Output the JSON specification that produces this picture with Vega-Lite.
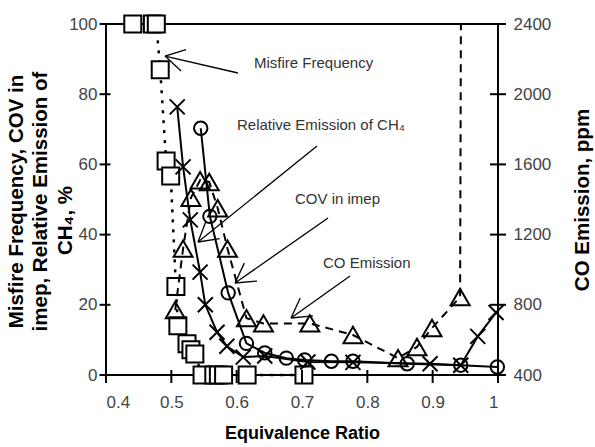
{
  "$schema": "https://vega.github.io/schema/vega-lite/v6.json",
  "width": 392,
  "height": 351,
  "autosize": {"type": "none"},
  "padding": {"left": 106, "top": 24, "right": 97, "bottom": 72},
  "config": {
    "view": {"stroke": "black", "strokeWidth": 2},
    "font": "Liberation Sans",
    "axis": {
      "domain": false,
      "ticks": false,
      "grid": false,
      "labelFont": "Liberation Sans",
      "labelFontSize": 17,
      "labelColor": "#444444",
      "titleFont": "Liberation Sans",
      "titleFontWeight": "bold",
      "titleColor": "black"
    }
  },
  "datasets": {
    "pct": [
      {"s": "misfire", "seq": 1, "ratio": 0.441, "pct": 100},
      {"s": "misfire", "seq": 2, "ratio": 0.471, "pct": 100},
      {"s": "misfire", "seq": 3, "ratio": 0.477, "pct": 100},
      {"s": "misfire", "seq": 4, "ratio": 0.483, "pct": 87},
      {"s": "misfire", "seq": 5, "ratio": 0.492, "pct": 61},
      {"s": "misfire", "seq": 6, "ratio": 0.499, "pct": 56.7},
      {"s": "misfire", "seq": 7, "ratio": 0.507, "pct": 25.2},
      {"s": "misfire", "seq": 8, "ratio": 0.510, "pct": 14},
      {"s": "misfire", "seq": 9, "ratio": 0.524, "pct": 8.9},
      {"s": "misfire", "seq": 10, "ratio": 0.530, "pct": 7.2},
      {"s": "misfire", "seq": 11, "ratio": 0.536, "pct": 6},
      {"s": "misfire", "seq": 12, "ratio": 0.547, "pct": 0},
      {"s": "misfire", "seq": 13, "ratio": 0.565, "pct": 0},
      {"s": "misfire", "seq": 14, "ratio": 0.572, "pct": 0},
      {"s": "misfire", "seq": 15, "ratio": 0.580, "pct": 0},
      {"s": "misfire", "seq": 16, "ratio": 0.616, "pct": 0},
      {"s": "misfire", "seq": 17, "ratio": 0.703, "pct": 0},
      {"s": "ch4", "seq": 1, "ratio": 0.509, "pct": 76.4},
      {"s": "ch4", "seq": 2, "ratio": 0.518, "pct": 59.3},
      {"s": "ch4", "seq": 3, "ratio": 0.529, "pct": 44.2},
      {"s": "ch4", "seq": 4, "ratio": 0.544, "pct": 29.3},
      {"s": "ch4", "seq": 5, "ratio": 0.552, "pct": 20},
      {"s": "ch4", "seq": 6, "ratio": 0.570, "pct": 12.2},
      {"s": "ch4", "seq": 7, "ratio": 0.585, "pct": 8.2},
      {"s": "ch4", "seq": 8, "ratio": 0.610, "pct": 5.1},
      {"s": "ch4", "seq": 9, "ratio": 0.643, "pct": 5.4},
      {"s": "ch4", "seq": 10, "ratio": 0.709, "pct": 3.7},
      {"s": "ch4", "seq": 11, "ratio": 0.778, "pct": 3.6},
      {"s": "ch4", "seq": 12, "ratio": 0.896, "pct": 3.2},
      {"s": "ch4", "seq": 13, "ratio": 0.943, "pct": 2.8},
      {"s": "ch4", "seq": 14, "ratio": 0.969, "pct": 11},
      {"s": "ch4", "seq": 15, "ratio": 0.997, "pct": 17.8},
      {"s": "cov", "seq": 1, "ratio": 0.545, "pct": 70.3},
      {"s": "cov", "seq": 2, "ratio": 0.559, "pct": 45.2},
      {"s": "cov", "seq": 3, "ratio": 0.587, "pct": 23.4},
      {"s": "cov", "seq": 4, "ratio": 0.615, "pct": 9},
      {"s": "cov", "seq": 5, "ratio": 0.643, "pct": 6.3},
      {"s": "cov", "seq": 6, "ratio": 0.676, "pct": 4.8},
      {"s": "cov", "seq": 7, "ratio": 0.704, "pct": 4.3},
      {"s": "cov", "seq": 8, "ratio": 0.745, "pct": 3.9},
      {"s": "cov", "seq": 9, "ratio": 0.778, "pct": 3.9},
      {"s": "cov", "seq": 10, "ratio": 0.861, "pct": 3.2},
      {"s": "cov", "seq": 11, "ratio": 0.943, "pct": 2.8},
      {"s": "cov", "seq": 12, "ratio": 0.999, "pct": 2.3}
    ],
    "co": [
      {"ratio": 0.506, "ppm": 770},
      {"ratio": 0.518, "ppm": 1120},
      {"ratio": 0.530, "ppm": 1410},
      {"ratio": 0.544, "ppm": 1510},
      {"ratio": 0.558, "ppm": 1500},
      {"ratio": 0.571, "ppm": 1350},
      {"ratio": 0.586, "ppm": 1120},
      {"ratio": 0.615, "ppm": 724},
      {"ratio": 0.641, "ppm": 694},
      {"ratio": 0.712, "ppm": 694},
      {"ratio": 0.778, "ppm": 628},
      {"ratio": 0.847, "ppm": 496},
      {"ratio": 0.876, "ppm": 560},
      {"ratio": 0.899, "ppm": 668},
      {"ratio": 0.942, "ppm": 844},
      {"ratio": 0.944, "ppm": 3400}
    ],
    "notes": [
      {"label": "Misfire Frequency", "ratio": 0.6265, "pct": 88.9},
      {"label": "Relative Emission of CH₄", "ratio": 0.6005, "pct": 71.2},
      {"label": "COV in imep", "ratio": 0.6893, "pct": 50.1},
      {"label": "CO Emission", "ratio": 0.7322, "pct": 31.9}
    ],
    "arrows": [
      {"ratio": 0.4903, "pct": 90.88, "ratio2": 0.6020, "pct2": 86.04},
      {"ratio": 0.4903, "pct": 90.88, "ratio2": 0.5225, "pct2": 92.71},
      {"ratio": 0.4903, "pct": 90.88, "ratio2": 0.5150, "pct2": 86.61},
      {"ratio": 0.5408, "pct": 37.89, "ratio2": 0.7230, "pct2": 65.24},
      {"ratio": 0.5408, "pct": 37.89, "ratio2": 0.5740, "pct2": 38.86},
      {"ratio": 0.5408, "pct": 37.89, "ratio2": 0.5529, "pct2": 43.73},
      {"ratio": 0.5975, "pct": 26.21, "ratio2": 0.7398, "pct2": 44.73},
      {"ratio": 0.5975, "pct": 26.21, "ratio2": 0.6310, "pct2": 26.75},
      {"ratio": 0.5975, "pct": 26.21, "ratio2": 0.6117, "pct2": 31.88},
      {"ratio": 0.6832, "pct": 16.24, "ratio2": 0.7735, "pct2": 28.21},
      {"ratio": 0.6832, "pct": 16.24, "ratio2": 0.7167, "pct2": 16.84},
      {"ratio": 0.6832, "pct": 16.24, "ratio2": 0.6973, "pct2": 21.94}
    ],
    "xticks": [
      {"ratio": 0.4, "pct": 0}, {"ratio": 0.5, "pct": 0}, {"ratio": 0.6, "pct": 0},
      {"ratio": 0.7, "pct": 0}, {"ratio": 0.8, "pct": 0}, {"ratio": 0.9, "pct": 0},
      {"ratio": 1.0, "pct": 0}
    ],
    "leftticks": [
      {"ratio": 0.4, "pct": 0}, {"ratio": 0.4, "pct": 20}, {"ratio": 0.4, "pct": 40},
      {"ratio": 0.4, "pct": 60}, {"ratio": 0.4, "pct": 80}, {"ratio": 0.4, "pct": 100}
    ],
    "rightticks": [
      {"ratio": 1.0, "ppm": 400}, {"ratio": 1.0, "ppm": 800}, {"ratio": 1.0, "ppm": 1200},
      {"ratio": 1.0, "ppm": 1600}, {"ratio": 1.0, "ppm": 2000}, {"ratio": 1.0, "ppm": 2400}
    ]
  },
  "encoding": {
    "x": {
      "field": "ratio", "type": "quantitative",
      "scale": {"domain": [0.4, 1], "nice": false, "zero": false},
      "axis": {
        "values": [0.4, 0.5, 0.6, 0.7, 0.8, 0.9, 1],
        "format": "~g",
        "labelPadding": 19,
        "labelBaseline": "top",
        "title": "Equivalence Ratio",
        "titleFontSize": 18,
        "titleBaseline": "alphabetic",
        "titleY": 63
      }
    }
  },
  "layer": [
    {
      "encoding": {
        "y": {
          "field": "pct", "type": "quantitative",
          "scale": {"domain": [0, 100], "nice": false},
          "axis": {
            "orient": "left",
            "values": [0, 20, 40, 60, 80, 100],
            "format": "d",
            "labelPadding": 9,
            "labelBaseline": "middle",
            "title": ["Misfire Frequency, COV in", "imep, Relative Emission of"],
            "titleFontSize": 20.5,
            "titleLineHeight": 24.5,
            "titleAngle": 270,
            "titleAlign": "center",
            "titleBaseline": "top",
            "titleX": -100,
            "titleY": 177
          }
        }
      },
      "layer": [
        {
          "data": {"name": "pct"},
          "transform": [{"filter": "datum.s === 'misfire'"}],
          "mark": {"type": "line", "color": "black", "strokeWidth": 2.5, "strokeDash": [3, 7]},
          "encoding": {"order": {"field": "seq"}}
        },
        {
          "data": {"name": "pct"},
          "transform": [{"filter": "datum.s === 'misfire'"}],
          "mark": {"type": "point", "shape": "square", "size": 289, "fill": "white", "stroke": "black", "strokeWidth": 2, "opacity": 1, "fillOpacity": 1}
        },
        {
          "data": {"name": "pct"},
          "transform": [{"filter": "datum.s === 'ch4'"}],
          "mark": {"type": "line", "color": "black", "strokeWidth": 2},
          "encoding": {"order": {"field": "seq"}}
        },
        {
          "data": {"name": "pct"},
          "transform": [{"filter": "datum.s === 'ch4'"}],
          "mark": {"type": "point", "shape": "M-1,-1L1,1M-1,1L1,-1", "size": 225, "filled": false, "stroke": "black", "strokeWidth": 2, "opacity": 1}
        },
        {
          "data": {"name": "pct"},
          "transform": [{"filter": "datum.s === 'cov'"}],
          "mark": {"type": "line", "color": "black", "strokeWidth": 2},
          "encoding": {"order": {"field": "seq"}}
        },
        {
          "data": {"name": "pct"},
          "transform": [{"filter": "datum.s === 'cov'"}],
          "mark": {"type": "point", "shape": "circle", "size": 180, "filled": false, "stroke": "black", "strokeWidth": 2, "opacity": 1}
        },
        {
          "data": {"name": "arrows"},
          "mark": {"type": "rule", "color": "black", "strokeWidth": 1.3},
          "encoding": {
            "x2": {"field": "ratio2"},
            "y2": {"field": "pct2"}
          }
        },
        {
          "data": {"name": "notes"},
          "mark": {"type": "text", "align": "left", "baseline": "middle", "font": "Liberation Sans", "fontSize": 15, "color": "#333333"},
          "encoding": {"text": {"field": "label"}}
        },
        {
          "data": {"name": "xticks"},
          "mark": {"type": "tick", "orient": "vertical", "size": 13, "thickness": 2, "color": "black", "opacity": 1, "yOffset": 1.5}
        }
      ]
    },
    {
      "data": {"name": "leftticks"},
      "mark": {"type": "tick", "orient": "horizontal", "size": 11, "thickness": 2, "color": "black", "opacity": 1, "xOffset": -1},
      "encoding": {
        "y": {
          "field": "pct", "type": "quantitative",
          "scale": {"domain": [0, 100], "nice": false},
          "axis": {
            "orient": "left",
            "labels": false,
            "title": "CH₄, %",
            "titleFontSize": 20.5,
            "titleAngle": 270,
            "titleAlign": "center",
            "titleBaseline": "top",
            "titleX": -51,
            "titleY": 196
          }
        }
      }
    },
    {
      "encoding": {
        "y": {
          "field": "ppm", "type": "quantitative",
          "scale": {"domain": [400, 2400], "nice": false, "zero": false},
          "axis": {
            "orient": "right",
            "values": [400, 800, 1200, 1600, 2000, 2400],
            "format": "d",
            "labelPadding": 15,
            "labelBaseline": "middle",
            "title": "CO Emission, ppm",
            "titleFontSize": 20.5,
            "titleAngle": 270,
            "titleAlign": "center",
            "titleBaseline": "top",
            "titleX": 74,
            "titleY": 175.5
          }
        }
      },
      "layer": [
        {
          "data": {"name": "co"},
          "mark": {"type": "line", "color": "black", "strokeWidth": 2, "strokeDash": [8, 6], "clip": true}
        },
        {
          "data": {"name": "co"},
          "transform": [{"filter": "datum.ppm <= 2400"}],
          "mark": {"type": "point", "shape": "triangle-up", "size": 360, "filled": false, "stroke": "black", "strokeWidth": 2, "opacity": 1}
        },
        {
          "data": {"name": "rightticks"},
          "mark": {"type": "tick", "orient": "horizontal", "size": 16, "thickness": 2, "color": "black", "opacity": 1}
        }
      ]
    }
  ],
  "resolve": {"scale": {"y": "independent"}}
}
